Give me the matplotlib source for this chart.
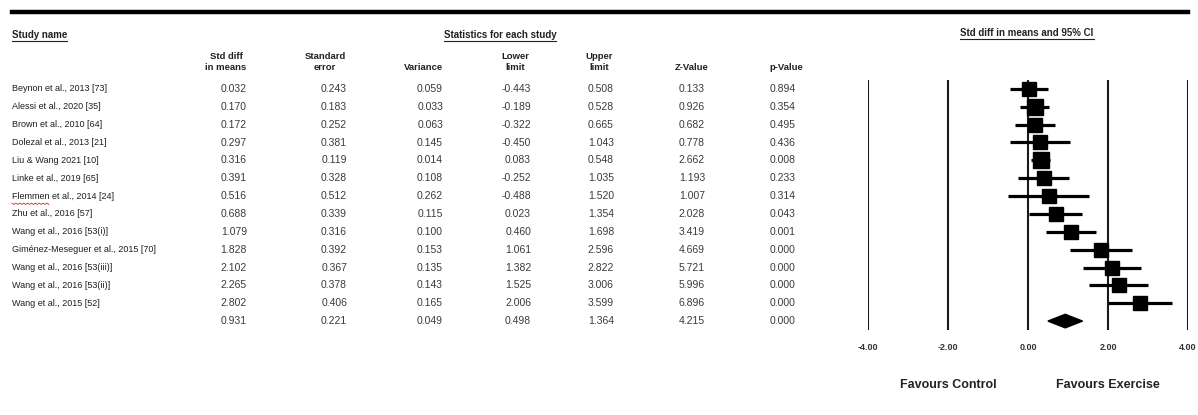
import matplotlib
matplotlib.use("Agg")
import matplotlib.pyplot as plt
import numpy as np
from matplotlib.lines import Line2D
from matplotlib.transforms import blended_transform_factory

plt.rcParams["font.family"] = ["Liberation Sans", "DejaVu Sans"]

# ---- data ----
studies = ["Beynon et al., 2013 [73]", "Alessi et al., 2020 [35]",
           "Brown et al., 2010 [64]", "Dolezal et al., 2013 [21]",
           "Liu & Wang 2021 [10]", "Linke et al., 2019 [65]",
           "Flemmen et al., 2014 [24]", "Zhu et al., 2016 [57]",
           "Wang et al., 2016 [53(i)]", "Giménez-Meseguer et al., 2015 [70]",
           "Wang et al., 2016 [53(iii)]", "Wang et al., 2016 [53(ii)]",
           "Wang et al., 2015 [52]"]
std_diff = [0.032, 0.170, 0.172, 0.297, 0.316, 0.391, 0.516, 0.688, 1.079,
            1.828, 2.102, 2.265, 2.802]
std_err = [0.243, 0.183, 0.252, 0.381, 0.119, 0.328, 0.512, 0.339, 0.316,
           0.392, 0.367, 0.378, 0.406]
variance = [0.059, 0.033, 0.063, 0.145, 0.014, 0.108, 0.262, 0.115, 0.100,
            0.153, 0.135, 0.143, 0.165]
lower = [-0.443, -0.189, -0.322, -0.450, 0.083, -0.252, -0.488, 0.023, 0.460,
         1.061, 1.382, 1.525, 2.006]
upper = [0.508, 0.528, 0.665, 1.043, 0.548, 1.035, 1.520, 1.354, 1.698,
         2.596, 2.822, 3.006, 3.599]
z_value = [0.133, 0.926, 0.682, 0.778, 2.662, 1.193, 1.007, 2.028, 3.419,
           4.669, 5.721, 5.996, 6.896]
p_value = [0.894, 0.354, 0.495, 0.436, 0.008, 0.233, 0.314, 0.043, 0.001,
           0.000, 0.000, 0.000, 0.000]
# pooled (random effects) row
summary = {"std_diff": 0.931, "std_err": 0.221, "variance": 0.049,
           "lower": 0.498, "upper": 1.364, "z": 4.215, "p": 0.000}
x_ticks = [-4, -2, 0, 2, 4]

W, H = 1198, 415
fig = plt.figure(figsize=(W / 100, H / 100), dpi=100)
fig.patch.set_facecolor("white")


def fx(px):
    return px / W


def fy(py):
    return 1 - py / H


n = len(studies)
ax = fig.add_axes([fx(868), fy(330), fx(1188) - fx(868), (330 - 80) / H])
ax.set_xlim(-4, 4)
ax.set_ylim(n + 0.5, -0.5)
for s in ax.spines.values():
    s.set_visible(False)
ax.set_yticks([])
ax.set_xticks(x_ticks)
ax.set_xticklabels([f"{t:.2f}" for t in x_ticks], fontsize=6.5,
                   fontweight="bold", color="#333333")
ax.tick_params(axis="x", length=0, pad=9)
for t in x_ticks:
    ax.axvline(t, color="#1a1a1a", lw=1.5, zorder=1)

# square size from random-effects weights
var_arr = np.array(std_err) ** 2
w_fixed = 1 / var_arr
q = np.sum(w_fixed * (np.array(std_diff) - np.sum(w_fixed * std_diff) / w_fixed.sum()) ** 2)
c = w_fixed.sum() - np.sum(w_fixed ** 2) / w_fixed.sum()
tau2 = max(0.0, (q - (n - 1)) / c)
w_rand = 1 / (var_arr + tau2)
sizes = 11 * (w_rand / w_rand.max()) ** 0.4

for i in range(n):
    ax.plot([lower[i], upper[i]], [i, i], color="black", lw=2.3,
            solid_capstyle="butt", zorder=2)
    ax.plot(std_diff[i], i, marker="s", ms=sizes[i], color="black",
            mec="black", zorder=3)

ax.fill([summary["lower"], summary["std_diff"], summary["upper"], summary["std_diff"]],
        [n, n - 0.38, n, n + 0.38], color="black", zorder=3)

# ---- table ----
tr = blended_transform_factory(fig.transFigure, ax.transData)
name_col = "#1e1e1e"
num_col = "#3a3a3a"
cols = [(247, std_diff, summary["std_diff"]), (347, std_err, summary["std_err"]),
        (443, variance, summary["variance"]), (531, lower, summary["lower"]),
        (614, upper, summary["upper"]), (705, z_value, summary["z"]),
        (796, p_value, summary["p"])]

for i, name in enumerate(studies):
    fig.text(fx(12), i, name, transform=tr, fontsize=6.5, color=name_col,
             va="center", ha="left")
for xr, vals, pooled in cols:
    for i, v in enumerate(list(vals) + [pooled]):
        fig.text(fx(xr), i, f"{v:.3f}", transform=tr, fontsize=7.5,
                 color=num_col, va="center", ha="right")

hdr = dict(fontsize=6.8, fontweight="bold", color="#222222", va="center",
           ha="center", linespacing=1.25)
fig.text(fx(226), fy(62), "Std diff\nin means", **hdr)
fig.text(fx(325), fy(62), "Standard\nerror", **hdr)
fig.text(fx(424), fy(68), "Variance", **hdr)
fig.text(fx(515), fy(62), "Lower\nlimit", **hdr)
fig.text(fx(599), fy(62), "Upper\nlimit", **hdr)
fig.text(fx(692), fy(68), "Z-Value", **hdr)
fig.text(fx(786), fy(68), "p-Value", **hdr)

titles = [
    fig.text(fx(12), fy(35), "Study name", fontsize=7, fontweight="bold",
             color="#222222", ha="left", va="center"),
    fig.text(fx(500), fy(35), "Statistics for each study", fontsize=7,
             fontweight="bold", color="#222222", ha="center", va="center"),
    fig.text(fx(1027), fy(33), "Std diff in means and 95% CI", fontsize=7,
             fontweight="bold", color="#222222", ha="center", va="center"),
]

fig.text(fx(948), fy(385), "Favours Control", fontsize=9, fontweight="bold",
         color="#222222", ha="center", va="center")
fig.text(fx(1108), fy(385), "Favours Exercise", fontsize=9, fontweight="bold",
         color="#222222", ha="center", va="center")

# thick rule across the top
fig.add_artist(Line2D([fx(12), fx(1188)], [fy(12), fy(12)], color="black",
                      lw=3.2, transform=fig.transFigure))

# underline the section titles
fig.canvas.draw()
renderer = fig.canvas.get_renderer()
for t in titles:
    bb = t.get_window_extent(renderer)
    y = bb.y0 - 1
    fig.add_artist(Line2D([bb.x0 / W, bb.x1 / W], [y / H, y / H],
                          color="#222222", lw=0.8, transform=fig.transFigure))

# spell-check squiggle under "Flemmen"
sq_x = np.linspace(12, 49, 20)
sq_y = 203 + np.where(np.arange(20) % 2 == 0, 0, 1.5)
fig.add_artist(Line2D(fx(sq_x), fy(sq_y), color="#d03030", lw=0.6,
                      transform=fig.transFigure))

fig.savefig("out.png", dpi=100, facecolor="white")
